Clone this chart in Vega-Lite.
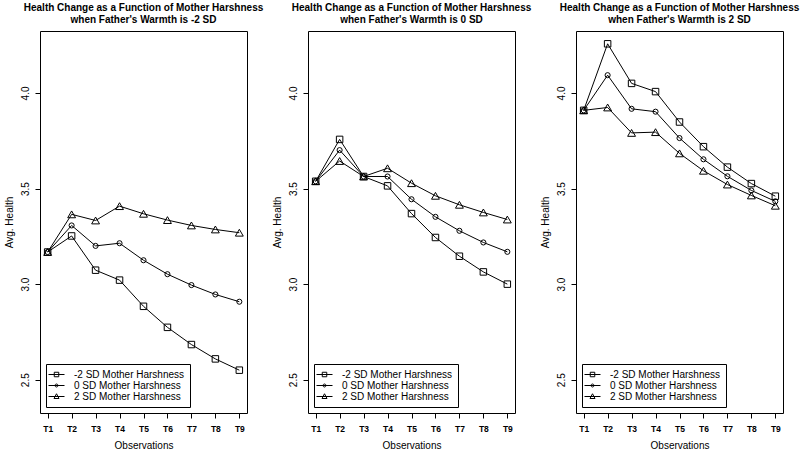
{
  "$schema": "https://vega.github.io/schema/vega-lite/v6.json",
  "background": "white",
  "padding": {"left": 3, "top": 2, "right": 0, "bottom": 0},
  "bounds": "flush",
  "spacing": 61,
  "config": {
    "font": "Liberation Sans",
    "view": {"stroke": "black", "strokeWidth": 1},
    "title": {"font": "Liberation Sans", "fontSize": 10, "fontWeight": "bold", "anchor": "middle", "frame": "group", "offset": 6, "lineHeight": 12.3, "color": "black"},
    "axis": {"domain": false, "grid": false, "tickColor": "black", "tickSize": 5, "labelColor": "black", "titleColor": "black", "labelFont": "Liberation Sans", "titleFont": "Liberation Sans", "titleFontWeight": "normal", "titleFontSize": 10},
    "legend": {"orient": "bottom-left", "offset": 6, "strokeColor": "black", "fillColor": "white", "padding": 5, "labelFont": "Liberation Sans", "labelFontSize": 10, "labelColor": "black", "symbolSize": 100, "symbolStrokeColor": "black", "symbolFillColor": "transparent", "symbolStrokeWidth": 1, "symbolOpacity": 1, "rowPadding": -3, "labelOffset": 12, "cornerRadius": 0}
  },
  "resolve": {"scale": {"shape": "independent"}, "legend": {"shape": "independent"}},
  "datasets": {
    "health": [
      {"warmth": "-2", "harshness": "-2 SD Mother Harshness", "obs": "T1", "health": 3.168},
      {"warmth": "-2", "harshness": "-2 SD Mother Harshness", "obs": "T2", "health": 3.252},
      {"warmth": "-2", "harshness": "-2 SD Mother Harshness", "obs": "T3", "health": 3.073},
      {"warmth": "-2", "harshness": "-2 SD Mother Harshness", "obs": "T4", "health": 3.021},
      {"warmth": "-2", "harshness": "-2 SD Mother Harshness", "obs": "T5", "health": 2.884},
      {"warmth": "-2", "harshness": "-2 SD Mother Harshness", "obs": "T6", "health": 2.774},
      {"warmth": "-2", "harshness": "-2 SD Mother Harshness", "obs": "T7", "health": 2.684},
      {"warmth": "-2", "harshness": "-2 SD Mother Harshness", "obs": "T8", "health": 2.609},
      {"warmth": "-2", "harshness": "-2 SD Mother Harshness", "obs": "T9", "health": 2.550},
      {"warmth": "-2", "harshness": "0 SD Mother Harshness", "obs": "T1", "health": 3.168},
      {"warmth": "-2", "harshness": "0 SD Mother Harshness", "obs": "T2", "health": 3.307},
      {"warmth": "-2", "harshness": "0 SD Mother Harshness", "obs": "T3", "health": 3.200},
      {"warmth": "-2", "harshness": "0 SD Mother Harshness", "obs": "T4", "health": 3.214},
      {"warmth": "-2", "harshness": "0 SD Mother Harshness", "obs": "T5", "health": 3.125},
      {"warmth": "-2", "harshness": "0 SD Mother Harshness", "obs": "T6", "health": 3.052},
      {"warmth": "-2", "harshness": "0 SD Mother Harshness", "obs": "T7", "health": 2.995},
      {"warmth": "-2", "harshness": "0 SD Mother Harshness", "obs": "T8", "health": 2.946},
      {"warmth": "-2", "harshness": "0 SD Mother Harshness", "obs": "T9", "health": 2.908},
      {"warmth": "-2", "harshness": "2 SD Mother Harshness", "obs": "T1", "health": 3.168},
      {"warmth": "-2", "harshness": "2 SD Mother Harshness", "obs": "T2", "health": 3.365},
      {"warmth": "-2", "harshness": "2 SD Mother Harshness", "obs": "T3", "health": 3.333},
      {"warmth": "-2", "harshness": "2 SD Mother Harshness", "obs": "T4", "health": 3.408},
      {"warmth": "-2", "harshness": "2 SD Mother Harshness", "obs": "T5", "health": 3.368},
      {"warmth": "-2", "harshness": "2 SD Mother Harshness", "obs": "T6", "health": 3.335},
      {"warmth": "-2", "harshness": "2 SD Mother Harshness", "obs": "T7", "health": 3.307},
      {"warmth": "-2", "harshness": "2 SD Mother Harshness", "obs": "T8", "health": 3.286},
      {"warmth": "-2", "harshness": "2 SD Mother Harshness", "obs": "T9", "health": 3.269},
      {"warmth": "0", "harshness": "-2 SD Mother Harshness", "obs": "T1", "health": 3.538},
      {"warmth": "0", "harshness": "-2 SD Mother Harshness", "obs": "T2", "health": 3.757},
      {"warmth": "0", "harshness": "-2 SD Mother Harshness", "obs": "T3", "health": 3.563},
      {"warmth": "0", "harshness": "-2 SD Mother Harshness", "obs": "T4", "health": 3.514},
      {"warmth": "0", "harshness": "-2 SD Mother Harshness", "obs": "T5", "health": 3.369},
      {"warmth": "0", "harshness": "-2 SD Mother Harshness", "obs": "T6", "health": 3.244},
      {"warmth": "0", "harshness": "-2 SD Mother Harshness", "obs": "T7", "health": 3.146},
      {"warmth": "0", "harshness": "-2 SD Mother Harshness", "obs": "T8", "health": 3.064},
      {"warmth": "0", "harshness": "-2 SD Mother Harshness", "obs": "T9", "health": 3.000},
      {"warmth": "0", "harshness": "0 SD Mother Harshness", "obs": "T1", "health": 3.538},
      {"warmth": "0", "harshness": "0 SD Mother Harshness", "obs": "T2", "health": 3.701},
      {"warmth": "0", "harshness": "0 SD Mother Harshness", "obs": "T3", "health": 3.563},
      {"warmth": "0", "harshness": "0 SD Mother Harshness", "obs": "T4", "health": 3.563},
      {"warmth": "0", "harshness": "0 SD Mother Harshness", "obs": "T5", "health": 3.444},
      {"warmth": "0", "harshness": "0 SD Mother Harshness", "obs": "T6", "health": 3.352},
      {"warmth": "0", "harshness": "0 SD Mother Harshness", "obs": "T7", "health": 3.279},
      {"warmth": "0", "harshness": "0 SD Mother Harshness", "obs": "T8", "health": 3.218},
      {"warmth": "0", "harshness": "0 SD Mother Harshness", "obs": "T9", "health": 3.169},
      {"warmth": "0", "harshness": "2 SD Mother Harshness", "obs": "T1", "health": 3.538},
      {"warmth": "0", "harshness": "2 SD Mother Harshness", "obs": "T2", "health": 3.644},
      {"warmth": "0", "harshness": "2 SD Mother Harshness", "obs": "T3", "health": 3.563},
      {"warmth": "0", "harshness": "2 SD Mother Harshness", "obs": "T4", "health": 3.606},
      {"warmth": "0", "harshness": "2 SD Mother Harshness", "obs": "T5", "health": 3.528},
      {"warmth": "0", "harshness": "2 SD Mother Harshness", "obs": "T6", "health": 3.462},
      {"warmth": "0", "harshness": "2 SD Mother Harshness", "obs": "T7", "health": 3.415},
      {"warmth": "0", "harshness": "2 SD Mother Harshness", "obs": "T8", "health": 3.375},
      {"warmth": "0", "harshness": "2 SD Mother Harshness", "obs": "T9", "health": 3.338},
      {"warmth": "2", "harshness": "-2 SD Mother Harshness", "obs": "T1", "health": 3.909},
      {"warmth": "2", "harshness": "-2 SD Mother Harshness", "obs": "T2", "health": 4.257},
      {"warmth": "2", "harshness": "-2 SD Mother Harshness", "obs": "T3", "health": 4.050},
      {"warmth": "2", "harshness": "-2 SD Mother Harshness", "obs": "T4", "health": 4.007},
      {"warmth": "2", "harshness": "-2 SD Mother Harshness", "obs": "T5", "health": 3.848},
      {"warmth": "2", "harshness": "-2 SD Mother Harshness", "obs": "T6", "health": 3.719},
      {"warmth": "2", "harshness": "-2 SD Mother Harshness", "obs": "T7", "health": 3.612},
      {"warmth": "2", "harshness": "-2 SD Mother Harshness", "obs": "T8", "health": 3.526},
      {"warmth": "2", "harshness": "-2 SD Mother Harshness", "obs": "T9", "health": 3.460},
      {"warmth": "2", "harshness": "0 SD Mother Harshness", "obs": "T1", "health": 3.909},
      {"warmth": "2", "harshness": "0 SD Mother Harshness", "obs": "T2", "health": 4.093},
      {"warmth": "2", "harshness": "0 SD Mother Harshness", "obs": "T3", "health": 3.917},
      {"warmth": "2", "harshness": "0 SD Mother Harshness", "obs": "T4", "health": 3.902},
      {"warmth": "2", "harshness": "0 SD Mother Harshness", "obs": "T5", "health": 3.764},
      {"warmth": "2", "harshness": "0 SD Mother Harshness", "obs": "T6", "health": 3.653},
      {"warmth": "2", "harshness": "0 SD Mother Harshness", "obs": "T7", "health": 3.564},
      {"warmth": "2", "harshness": "0 SD Mother Harshness", "obs": "T8", "health": 3.490},
      {"warmth": "2", "harshness": "0 SD Mother Harshness", "obs": "T9", "health": 3.433},
      {"warmth": "2", "harshness": "2 SD Mother Harshness", "obs": "T1", "health": 3.909},
      {"warmth": "2", "harshness": "2 SD Mother Harshness", "obs": "T2", "health": 3.924},
      {"warmth": "2", "harshness": "2 SD Mother Harshness", "obs": "T3", "health": 3.791},
      {"warmth": "2", "harshness": "2 SD Mother Harshness", "obs": "T4", "health": 3.795},
      {"warmth": "2", "harshness": "2 SD Mother Harshness", "obs": "T5", "health": 3.684},
      {"warmth": "2", "harshness": "2 SD Mother Harshness", "obs": "T6", "health": 3.593},
      {"warmth": "2", "harshness": "2 SD Mother Harshness", "obs": "T7", "health": 3.521},
      {"warmth": "2", "harshness": "2 SD Mother Harshness", "obs": "T8", "health": 3.464},
      {"warmth": "2", "harshness": "2 SD Mother Harshness", "obs": "T9", "health": 3.410}
    ]
  },
  "hconcat": [
    {
      "width": 207, "height": 382,
      "title": {"text": ["Health Change as a Function of Mother Harshness", "when Father's Warmth is -2 SD"]},
      "data": {"name": "health"},
      "transform": [{"filter": "datum.warmth === '-2'"}],
      "encoding": {
        "x": {"field": "obs", "type": "ordinal", "scale": {"type": "point", "padding": 0.32}, "axis": {"title": "Observations", "labelAngle": 0, "labelFontSize": 8.5, "labelFontWeight": "bold", "labelPadding": 6, "titlePadding": 8}},
        "y": {"field": "health", "type": "quantitative", "scale": {"domain": [2.326, 4.324], "nice": false, "zero": false}, "axis": {"title": "Avg. Health", "values": [2.5, 3, 3.5, 4], "format": ".1f", "labelAngle": -90, "labelAlign": "center", "labelBaseline": "middle", "labelPadding": 10, "labelFontSize": 10, "titlePadding": 6}}
      },
      "resolve": {"scale": {"shape": "independent"}},
      "layer": [
        {"mark": {"type": "line", "color": "black", "strokeWidth": 1}, "encoding": {"detail": {"field": "harshness"}}},
        {"mark": {"type": "point", "filled": false, "color": "black", "strokeWidth": 1, "opacity": 1},
         "encoding": {
           "size": {"condition": [{"test": "datum.harshness === '0 SD Mother Harshness'", "value": 26}, {"test": "datum.harshness === '2 SD Mother Harshness'", "value": 62}], "value": 42},
           "shape": {"field": "harshness", "type": "nominal", "scale": {"domain": ["-2 SD Mother Harshness", "0 SD Mother Harshness", "2 SD Mother Harshness"], "range": ["square", "circle", "triangle-up"]}, "legend": null}
         }},
        {"mark": {"type": "point", "filled": false, "color": "black", "strokeWidth": 1, "size": 0},
         "encoding": {
           "shape": {"field": "harshness", "type": "nominal", "scale": {"domain": ["-2 SD Mother Harshness", "0 SD Mother Harshness", "2 SD Mother Harshness"], "range": ["M-1.6,0H1.6M-0.45,-0.45H0.45V0.45H-0.45Z", "M-1.6,0H1.6M-0.3,0A0.3,0.3 0 1,0 0.3,0A0.3,0.3 0 1,0 -0.3,0", "M-1.6,0H1.6M0,-0.55L0.5,0.4L-0.5,0.4Z"]}, "legend": {"title": null}}
         }}
      ]
    },
    {
      "width": 207, "height": 382,
      "title": {"text": ["Health Change as a Function of Mother Harshness", "when Father's Warmth is 0 SD"]},
      "data": {"name": "health"},
      "transform": [{"filter": "datum.warmth === '0'"}],
      "encoding": {
        "x": {"field": "obs", "type": "ordinal", "scale": {"type": "point", "padding": 0.32}, "axis": {"title": "Observations", "labelAngle": 0, "labelFontSize": 8.5, "labelFontWeight": "bold", "labelPadding": 6, "titlePadding": 8}},
        "y": {"field": "health", "type": "quantitative", "scale": {"domain": [2.326, 4.324], "nice": false, "zero": false}, "axis": {"title": "Avg. Health", "values": [2.5, 3, 3.5, 4], "format": ".1f", "labelAngle": -90, "labelAlign": "center", "labelBaseline": "middle", "labelPadding": 10, "labelFontSize": 10, "titlePadding": 6}}
      },
      "resolve": {"scale": {"shape": "independent"}},
      "layer": [
        {"mark": {"type": "line", "color": "black", "strokeWidth": 1}, "encoding": {"detail": {"field": "harshness"}}},
        {"mark": {"type": "point", "filled": false, "color": "black", "strokeWidth": 1, "opacity": 1},
         "encoding": {
           "size": {"condition": [{"test": "datum.harshness === '0 SD Mother Harshness'", "value": 26}, {"test": "datum.harshness === '2 SD Mother Harshness'", "value": 62}], "value": 42},
           "shape": {"field": "harshness", "type": "nominal", "scale": {"domain": ["-2 SD Mother Harshness", "0 SD Mother Harshness", "2 SD Mother Harshness"], "range": ["square", "circle", "triangle-up"]}, "legend": null}
         }},
        {"mark": {"type": "point", "filled": false, "color": "black", "strokeWidth": 1, "size": 0},
         "encoding": {
           "shape": {"field": "harshness", "type": "nominal", "scale": {"domain": ["-2 SD Mother Harshness", "0 SD Mother Harshness", "2 SD Mother Harshness"], "range": ["M-1.6,0H1.6M-0.45,-0.45H0.45V0.45H-0.45Z", "M-1.6,0H1.6M-0.3,0A0.3,0.3 0 1,0 0.3,0A0.3,0.3 0 1,0 -0.3,0", "M-1.6,0H1.6M0,-0.55L0.5,0.4L-0.5,0.4Z"]}, "legend": {"title": null}}
         }}
      ]
    },
    {
      "width": 207, "height": 382,
      "title": {"text": ["Health Change as a Function of Mother Harshness", "when Father's Warmth is 2 SD"]},
      "data": {"name": "health"},
      "transform": [{"filter": "datum.warmth === '2'"}],
      "encoding": {
        "x": {"field": "obs", "type": "ordinal", "scale": {"type": "point", "padding": 0.32}, "axis": {"title": "Observations", "labelAngle": 0, "labelFontSize": 8.5, "labelFontWeight": "bold", "labelPadding": 6, "titlePadding": 8}},
        "y": {"field": "health", "type": "quantitative", "scale": {"domain": [2.326, 4.324], "nice": false, "zero": false}, "axis": {"title": "Avg. Health", "values": [2.5, 3, 3.5, 4], "format": ".1f", "labelAngle": -90, "labelAlign": "center", "labelBaseline": "middle", "labelPadding": 10, "labelFontSize": 10, "titlePadding": 6}}
      },
      "resolve": {"scale": {"shape": "independent"}},
      "layer": [
        {"mark": {"type": "line", "color": "black", "strokeWidth": 1}, "encoding": {"detail": {"field": "harshness"}}},
        {"mark": {"type": "point", "filled": false, "color": "black", "strokeWidth": 1, "opacity": 1},
         "encoding": {
           "size": {"condition": [{"test": "datum.harshness === '0 SD Mother Harshness'", "value": 26}, {"test": "datum.harshness === '2 SD Mother Harshness'", "value": 62}], "value": 42},
           "shape": {"field": "harshness", "type": "nominal", "scale": {"domain": ["-2 SD Mother Harshness", "0 SD Mother Harshness", "2 SD Mother Harshness"], "range": ["square", "circle", "triangle-up"]}, "legend": null}
         }},
        {"mark": {"type": "point", "filled": false, "color": "black", "strokeWidth": 1, "size": 0},
         "encoding": {
           "shape": {"field": "harshness", "type": "nominal", "scale": {"domain": ["-2 SD Mother Harshness", "0 SD Mother Harshness", "2 SD Mother Harshness"], "range": ["M-1.6,0H1.6M-0.45,-0.45H0.45V0.45H-0.45Z", "M-1.6,0H1.6M-0.3,0A0.3,0.3 0 1,0 0.3,0A0.3,0.3 0 1,0 -0.3,0", "M-1.6,0H1.6M0,-0.55L0.5,0.4L-0.5,0.4Z"]}, "legend": {"title": null}}
         }}
      ]
    }
  ]
}
